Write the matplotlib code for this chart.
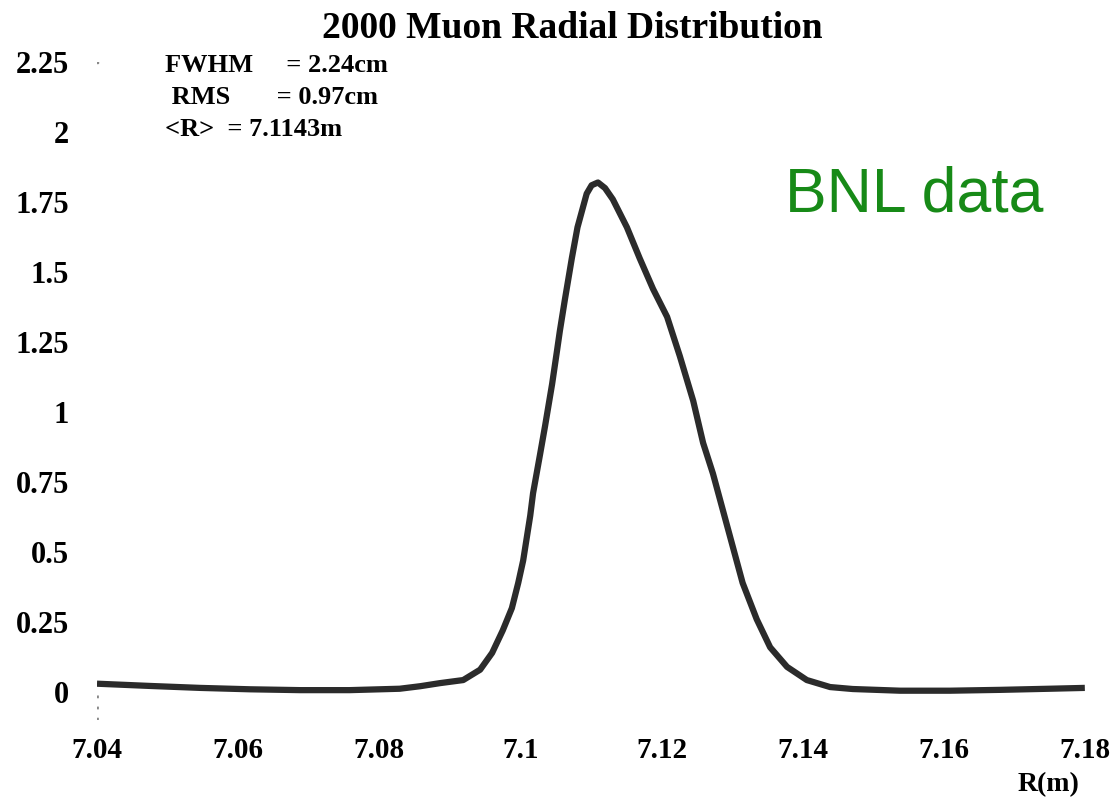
import matplotlib.pyplot as plt
import numpy as np

# radial distribution
r_m = [7.0400, 7.0475, 7.0546, 7.0617, 7.0688, 7.0758, 7.0829, 7.0858, 7.0886,
       7.0919, 7.0943, 7.0960, 7.0975, 7.0988, 7.0997, 7.1004, 7.1009, 7.1014,
       7.1018, 7.1023, 7.1028, 7.1035, 7.1045, 7.1052, 7.1056, 7.1063, 7.1073,
       7.1081, 7.1094, 7.1101, 7.1110, 7.1120, 7.1131, 7.1151, 7.1169, 7.1188,
       7.1208, 7.1226, 7.1245, 7.1259, 7.1273, 7.1287, 7.1301, 7.1315, 7.1335,
       7.1354, 7.1378, 7.1406, 7.1439, 7.1471, 7.1538, 7.1609, 7.1680, 7.1750,
       7.1800]
density = [0.030, 0.022, 0.015, 0.010, 0.007, 0.007, 0.012, 0.021, 0.032,
           0.043, 0.080, 0.140, 0.220, 0.300, 0.390, 0.470, 0.550, 0.630,
           0.710, 0.780, 0.850, 0.950, 1.100, 1.220, 1.290, 1.400, 1.550,
           1.660, 1.780, 1.810, 1.820, 1.800, 1.760, 1.660, 1.550, 1.440,
           1.340, 1.200, 1.040, 0.890, 0.780, 0.650, 0.520, 0.390, 0.260,
           0.160, 0.090, 0.043, 0.018, 0.011, 0.005, 0.005, 0.008, 0.012,
           0.015]

x_ticks = [7.04, 7.06, 7.08, 7.10, 7.12, 7.14, 7.16, 7.18]
x_tick_labels = ['7.04', '7.06', '7.08', '7.1', '7.12', '7.14', '7.16', '7.18']
y_ticks = [0, 0.25, 0.5, 0.75, 1, 1.25, 1.5, 1.75, 2, 2.25]
y_tick_labels = ['0', '0.25', '0.5', '0.75', '1', '1.25', '1.5', '1.75', '2', '2.25']

stats_lines = ['FWHM     = 2.24cm', ' RMS       = 0.97cm', '<R>  = 7.1143m']

SERIF = ['Liberation Serif', 'DejaVu Serif']

fig = plt.figure(figsize=(11.2, 8.01), dpi=100)
ax = fig.add_axes([0.0866, 0.101, 0.882, 0.8215])

ax.plot(r_m, density, color='#2b2b2b', linewidth=4.5,
        solid_joinstyle='round', solid_capstyle='butt')

ax.set_xlim(7.04, 7.18)
ax.set_ylim(-0.1, 2.25)

for s in ax.spines.values():
    s.set_visible(False)

ax.set_xticks(x_ticks)
ax.set_xticklabels(x_tick_labels, family=SERIF, fontweight='bold', fontsize=21)
ax.set_yticks(y_ticks)
ax.set_yticklabels(y_tick_labels, family=SERIF, fontweight='bold', fontsize=22)
ax.tick_params(axis='x', length=0, pad=12)
ax.tick_params(axis='y', length=0, pad=20)

# small dotted marks at the left edge
ax.plot([7.04, 7.04], [-0.1, 0.0], color='#888888', linestyle=(0, (1, 3)), linewidth=2)
ax.plot([7.04], [2.25], marker='s', markersize=2, color='#888888')

fig.text(0.511, 0.965, '2000 Muon Radial Distribution', ha='center', va='center',
         family=SERIF, fontweight='bold', fontsize=27)

for i, line in enumerate(stats_lines):
    fig.text(0.147, 0.918 - i * 0.04, line, ha='left', va='center',
             family=SERIF, fontweight='bold', fontsize=19)

fig.text(0.936, 0.02, 'R(m)', ha='center', va='center',
         family=SERIF, fontweight='bold', fontsize=20)

fig.text(0.816, 0.757, 'BNL data', ha='center', va='center',
         family=['Liberation Sans', 'DejaVu Sans'], fontsize=45, color='#178a17')

fig.savefig('out.png', dpi=100)
